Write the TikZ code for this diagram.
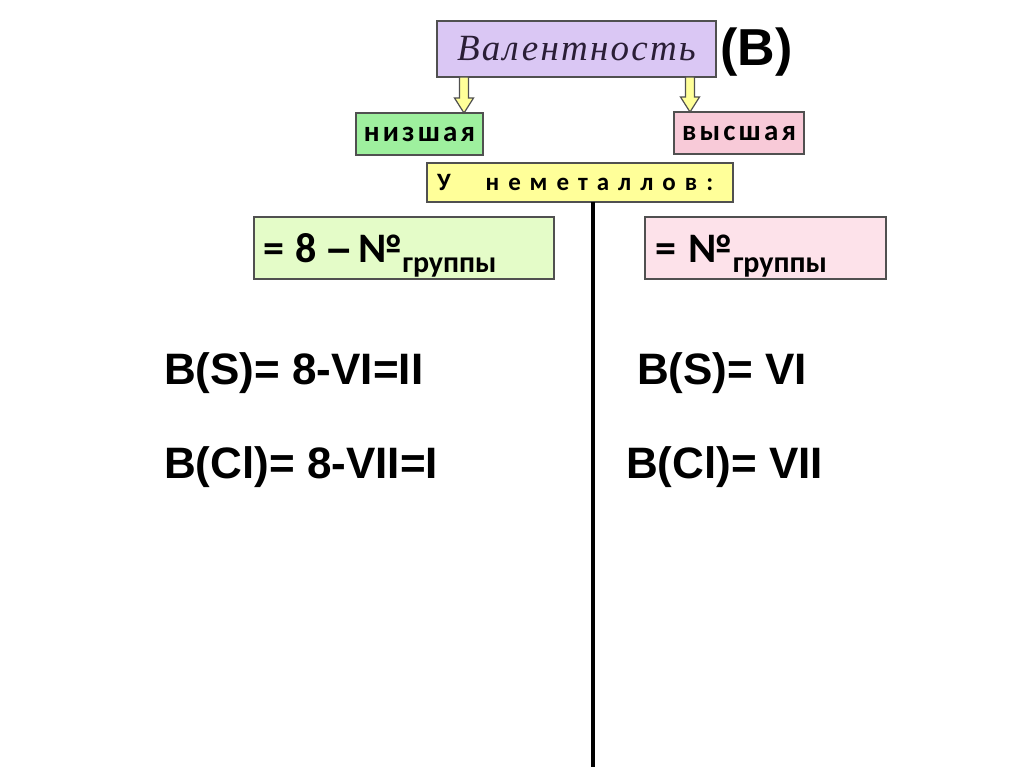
\documentclass[tikz,border=0pt]{standalone}
\usepackage{fontspec}
\setmainfont{Liberation Sans}
\newfontfamily\calib{Carlito}
\newfontfamily\wordfont[LetterSpace=11]{Carlito}
\newfontfamily\spacedfont[LetterSpace=36]{Carlito}
\newfontfamily\cursfont[LetterSpace=6]{Liberation Serif}
\usetikzlibrary{calc}
\definecolor{lilac}{HTML}{DAC7F4}
\definecolor{lowgreen}{HTML}{9EF09E}
\definecolor{highpink}{HTML}{F8CAD8}
\definecolor{nonyellow}{HTML}{FFFF99}
\definecolor{formgreen}{HTML}{E4FCC8}
\definecolor{formpink}{HTML}{FDE2EA}
\definecolor{boxline}{HTML}{505050}
\definecolor{cursink}{HTML}{2A1E36}
\newcommand\yarrow[2]{\draw[arrowbox] ($(#1)+(-4.5,0)$) -- ($(#2)+(-4.5,-15)$) -- ($(#2)+(-9.5,-15)$) -- (#2) -- ($(#2)+(9.5,-15)$) -- ($(#2)+(4.5,-15)$) -- ($(#1)+(4.5,0)$) -- cycle;}
\newcommand\groupno{\raisebox{-10pt}{\fontsize{30}{32}\selectfont группы}}

\begin{document}
\begin{tikzpicture}[x=1pt,y=-1pt,
		box/.style={draw=boxline, line width=1.2pt, inner sep=0pt, outer sep=0pt, anchor=north west},
		arrowbox/.style={draw=boxline, fill=nonyellow, line width=1.2pt, line join=miter},
		big/.style={font=\bfseries\fontsize{44}{48}\selectfont, anchor=base west, inner sep=0pt}]
				\useasboundingbox[fill=white] (0,0) rectangle (1024,767);
				
				\node[box, fill=lilac, minimum width=279, minimum height=56] (val) at (437,21) {\color{cursink}\cursfont\itshape\fontsize{37}{40}\selectfont Валентность};
				\node[anchor=base west, inner sep=0pt, font=\bfseries\fontsize{52}{56}\selectfont] (vsign) at (720,66) {(В)};
				
				\node[box, fill=lowgreen, minimum width=127, minimum height=42] (low) at (356,113) {\wordfont\bfseries\fontsize{29}{30}\selectfont низшая};
				\node[box, fill=highpink, minimum width=130, minimum height=42] (high) at (674,112) {\wordfont\bfseries\fontsize{29}{30}\selectfont высшая};
				
				\coordinate (la) at (464,0 |- val.south);
				\coordinate (lb) at (464,0 |- low.north);
				\coordinate (ha) at (690,0 |- val.south);
				\coordinate (hb) at (690,0 |- high.north);
				\yarrow{la}{lb}
				\yarrow{ha}{hb}
				
				\node[box, fill=nonyellow, minimum width=306, minimum height=39, text width=286, align=left] (nonmet) at (427,163) {\spacedfont\bfseries\fontsize{25}{27}\selectfont У\hspace{35pt}неметаллов:};
				
				\coordinate (lineend) at (593,767);
				\draw[line width=3.5pt] (nonmet.south -| lineend) -- (lineend);
				
				\node[box, fill=formgreen, minimum width=300, minimum height=62, text width=282, align=left] (lowform) at (254,217) {\raisebox{-14pt}[0pt][0pt]{\calib\bfseries\fontsize{42}{44}\selectfont =\hspace{12pt}8\hspace{10pt}{\rmfamily –}\hspace{8pt}№\groupno}};
				\node[box, fill=formpink, minimum width=241, minimum height=62, text width=221, align=left] (highform) at (645,217) {\raisebox{-14pt}[0pt][0pt]{\calib\bfseries\fontsize{42}{44}\selectfont =\hspace{13pt}№\groupno}};
				
				\node[big] (ls) at (164,384) {В(S)= 8-VI=II};
				\node[big] (lcl) at (164,478) {В(Cl)= 8-VII=I};
				\node[big] (hs) at (637,384) {В(S)= VI};
				\node[big] (hcl) at (626,478) {В(Cl)= VII};
\end{tikzpicture}
\end{document}
